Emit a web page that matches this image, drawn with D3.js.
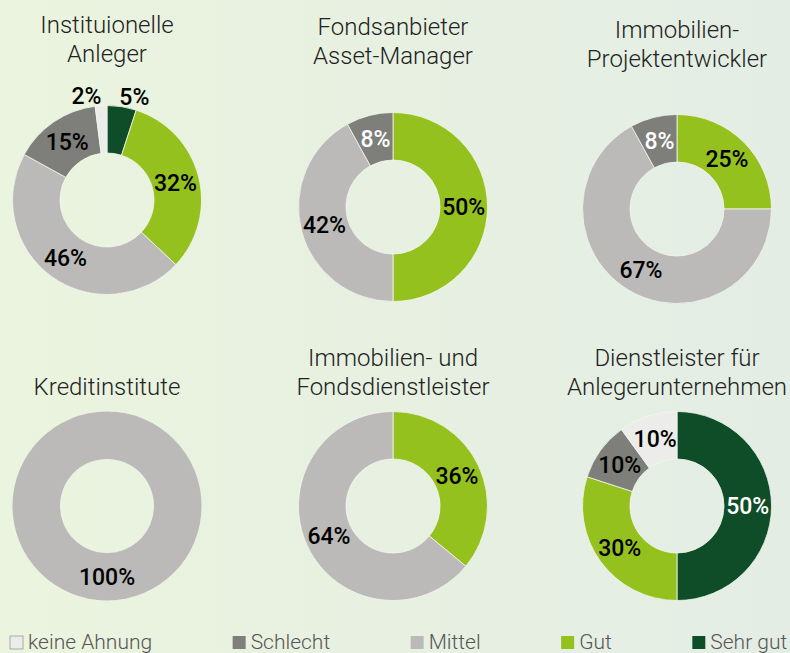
<!DOCTYPE html>
<html>
<head>
<meta charset="utf-8">
<script src="https://cdn.jsdelivr.net/npm/d3@7"></script>
<style>
  body { margin: 0; }
  svg { display: block; font-family: Roboto, 'Open Sans', sans-serif; }
</style>
</head>
<body>
<svg id="chart" width="790" height="653"></svg>
<script>
// DATA
const categories = ['keine Ahnung', 'Schlecht', 'Mittel', 'Gut', 'Sehr gut'];
const groups = [
  'Instituionelle\nAnleger',
  'Fondsanbieter\nAsset-Manager',
  'Immobilien-\nProjektentwickler',
  'Kreditinstitute',
  'Immobilien- und\nFondsdienstleister',
  'Dienstleister für\nAnlegerunternehmen',
];
const keineAhnung = [2, 0, 0, 0, 0, 10];
const schlecht = [15, 8, 8, 0, 0, 10];
const mittel = [46, 42, 67, 100, 64, 0];
const gut = [32, 50, 25, 0, 36, 30];
const sehrGut = [5, 0, 0, 0, 0, 50];

//SETUP
const svg = d3.select('#chart');
const width = +svg.attr('width');
const height = +svg.attr('height');

const colors = {
  'keine Ahnung': '#ececea',
  Schlecht: '#7e7e7a',
  Mittel: '#bbbab8',
  Gut: '#95c11f',
  'Sehr gut': '#0e4d28',
};
// labels drawn in white
const lightLabels = ['1|Schlecht', '2|Schlecht', '5|Sehr gut'];

const colX = [107, 393, 677];
const centerY = [200, 207, 209, 506, 506, 506];
const titleBase = [62, 64, 67, 395, 395, 395];
const outerR = 94.5;
const innerR = 47;

//BACKGROUND
const grad = svg.append('defs').append('linearGradient').attr('id', 'bg');
grad.append('stop').attr('offset', '0%').attr('stop-color', '#ebf4de');
grad.append('stop').attr('offset', '100%').attr('stop-color', '#e3ede4');
svg.append('rect').attr('width', width).attr('height', height).attr('fill', 'url(#bg)');

//PIES
const pie = d3.pie().sort(null).value((d) => d.value);
const arc = d3.arc().innerRadius(innerR).outerRadius(outerR);
const labelArc = d3.arc().innerRadius(outerR + 10).outerRadius(outerR + 10);

groups.forEach((title, i) => {
  const rows = [
    { key: 'Sehr gut', value: sehrGut[i] },
    { key: 'Gut', value: gut[i] },
    { key: 'Mittel', value: mittel[i] },
    { key: 'Schlecht', value: schlecht[i] },
    { key: 'keine Ahnung', value: keineAhnung[i] },
  ].filter((d) => d.value > 0);

  const g = svg
    .append('g')
    .attr('transform', `translate(${colX[i % 3]},${centerY[i]})`);

  const arcs = pie(rows);

  g.selectAll('path')
    .data(arcs)
    .enter()
    .append('path')
    .attr('d', arc)
    .attr('fill', (d) => colors[d.data.key])
    .attr('stroke', rows.length > 1 ? '#f2f6ee' : 'none')
    .attr('stroke-width', 0.8);

  g.selectAll('text.val')
    .data(arcs)
    .enter()
    .append('text')
    .classed('val', true)
    .each(function (d) {
      const small = d.data.value < 6;
      const right = Math.sin((d.startAngle + d.endAngle) / 2) > 0;
      const [x, y] = small ? labelArc.centroid(d) : arc.centroid(d);
      d3.select(this)
        .attr('x', small ? x + (right ? -4 : 1) : x)
        .attr('y', y)
        .attr('text-anchor', small ? (right ? 'start' : 'end') : 'middle');
    })
    .attr('dy', '0.36em')
    .style('font-size', '23px')
    .style('font-weight', 500)
    .attr('fill', (d) => (lightLabels.includes(`${i}|${d.data.key}`) ? '#fff' : '#000'))
    .text((d) => `${d.data.value}%`);

  //TITLE
  const lines = title.split('\n');
  g.append('text')
    .attr('text-anchor', 'middle')
    .style('font-size', '24px')
    .style('font-weight', 300)
    .attr('fill', '#222')
    .selectAll('tspan')
    .data(lines)
    .enter()
    .append('tspan')
    .attr('x', 0)
    .attr('y', (d, k) => titleBase[i] - centerY[i] - (lines.length - 1 - k) * 29)
    .text((d) => d);
});

//LEGEND
const legend = svg.append('g').attr('transform', `translate(10,${height - 4})`);
let xPos = 0;
categories.forEach((c) => {
  const item = legend.append('g').attr('transform', `translate(${xPos},0)`);
  item
    .append('rect')
    .attr('x', 0)
    .attr('y', -13)
    .attr('width', 13)
    .attr('height', 13)
    .attr('fill', colors[c])
    .attr('stroke', c === 'keine Ahnung' ? '#9a9a9a' : 'none')
    .attr('stroke-width', 0.8);
  const t = item
    .append('text')
    .attr('x', 18)
    .attr('y', 0)
    .style('font-size', '21px')
    .style('font-weight', 300)
    .attr('fill', '#555')
    .text(c);
  xPos += 18 + t.node().getComputedTextLength() + 80.5;
});
</script>
</body>
</html>
